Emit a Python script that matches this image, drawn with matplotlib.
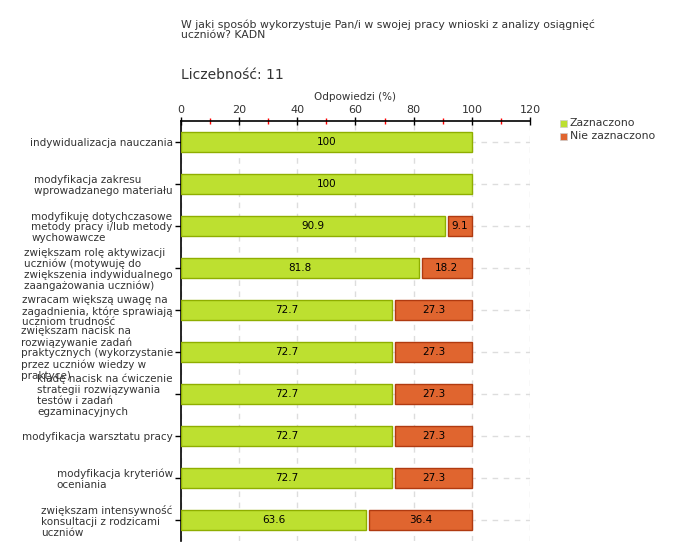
import numpy as np
import matplotlib
matplotlib.use("Agg")
import matplotlib.pyplot as plt
from matplotlib.patches import Rectangle

# ----------------------------
# Data
# ----------------------------
CATEGORIES = [
    "indywidualizacja nauczania",
    "modyfikacja zakresu\nwprowadzanego materiału",
    "modyfikuję dotychczasowe\nmetody pracy i/lub metody\nwychowawcze",
    "zwiększam rolę aktywizacji\nuczniów (motywuję do\nzwiększenia indywidualnego\nzaangażowania uczniów)",
    "zwracam większą uwagę na\nzagadnienia, które sprawiają\nuczniom trudność",
    "zwiększam nacisk na\nrozwiązywanie zadań\npraktycznych (wykorzystanie\nprzez uczniów wiedzy w\npraktyce)",
    "kładę nacisk na ćwiczenie\nstrategii rozwiązywania\ntestów i zadań\negzaminacyjnych",
    "modyfikacja warsztatu pracy",
    "modyfikacja kryteriów\noceniania",
    "zwiększam intensywność\nkonsultacji z rodzicami\nuczniów",
]
ZAZNACZONO = [100, 100, 90.9, 81.8, 72.7, 72.7, 72.7, 72.7, 72.7, 63.6]
NIE_ZAZNACZONO = [0, 0, 9.1, 18.2, 27.3, 27.3, 27.3, 27.3, 27.3, 36.4]

TITLE = "W jaki sposób wykorzystuje Pan/i w swojej pracy wnioski z analizy osiągnięć\nuczniów? KADN"
COUNT_TEXT = "Liczebność: 11"
XLABEL = "Odpowiedzi (%)"

GREEN, GREEN_EDGE = "#bde030", "#8fae00"
ORANGE, ORANGE_EDGE = "#e0652f", "#b03a10"
TEXT = "#333333"

plt.rcParams["font.family"] = ["DejaVu Sans"]

fig = plt.figure(figsize=(6.8, 5.6), dpi=100)
ax = fig.add_axes([181 / 680, 1 - 541 / 560, 349 / 680, 420 / 560])

y = np.arange(len(CATEGORIES))
gap = 1.0
ax.barh(y, ZAZNACZONO, height=0.46, color=GREEN, edgecolor=GREEN_EDGE, linewidth=1, zorder=3)
red = np.array(NIE_ZAZNACZONO)
ax.barh(y[red > 0], red[red > 0] - gap, left=np.array(ZAZNACZONO)[red > 0] + gap, height=0.46,
        color=ORANGE, edgecolor=ORANGE_EDGE, linewidth=1, zorder=3)

for i, (g, r) in enumerate(zip(ZAZNACZONO, NIE_ZAZNACZONO)):
    ax.text(g / 2, i, f"{g:g}", ha="center", va="center", fontsize=7.5, color="black", zorder=4)
    if r > 0:
        ax.text(g + gap + (r - gap) / 2, i, f"{r:g}", ha="center", va="center", fontsize=7.5,
                color="black", zorder=4)

ax.set_xlim(0, 120)
ax.set_ylim(len(CATEGORIES) - 0.5, -0.5)
ax.set_xticks(np.arange(0, 121, 20))
ax.set_xticks(np.arange(10, 120, 20), minor=True)
ax.xaxis.tick_top()
ax.xaxis.set_label_position("top")
ax.tick_params(axis="x", which="major", direction="inout", length=6, width=1, colors="black",
               labelsize=8, labelcolor=TEXT, pad=1)
ax.tick_params(axis="x", which="minor", direction="inout", length=5, width=1, color="red")
ax.set_xlabel(XLABEL, fontsize=7.5, color=TEXT, labelpad=4)

ax.set_yticks(y)
ax.set_yticklabels(CATEGORIES, fontsize=7.5, color=TEXT, multialignment="left", linespacing=1.1)
ax.tick_params(axis="y", direction="out", length=4, width=1, pad=2)

ax.grid(True, axis="both", color="#dddddd", linestyle=(0, (4, 4)), linewidth=1, zorder=0)
for s in ["right", "bottom"]:
    ax.spines[s].set_visible(False)
ax.spines["top"].set_linewidth(1.2)
ax.spines["left"].set_linewidth(1.2)

# title and count
fig.text(181 / 680, 1 - 20 / 560, TITLE, fontsize=7.8, color=TEXT, va="top", ha="left", linespacing=1.0)
fig.text(181 / 680, 1 - 75 / 560, COUNT_TEXT, fontsize=10, color=TEXT, va="center", ha="left")

# legend
for k, (lab, col) in enumerate([("Zaznaczono", GREEN), ("Nie zaznaczono", ORANGE)]):
    yy = 1 - (123 + 13 * k) / 560
    fig.patches.append(Rectangle((560 / 680, yy - 3.5 / 560), 7 / 680, 7 / 560, transform=fig.transFigure,
                                 facecolor=col, edgecolor="#cccccc", linewidth=0.5))
    fig.text(570 / 680, yy, lab, fontsize=7.8, color=TEXT, va="center", ha="left")

fig.savefig("out.png", dpi=100)
